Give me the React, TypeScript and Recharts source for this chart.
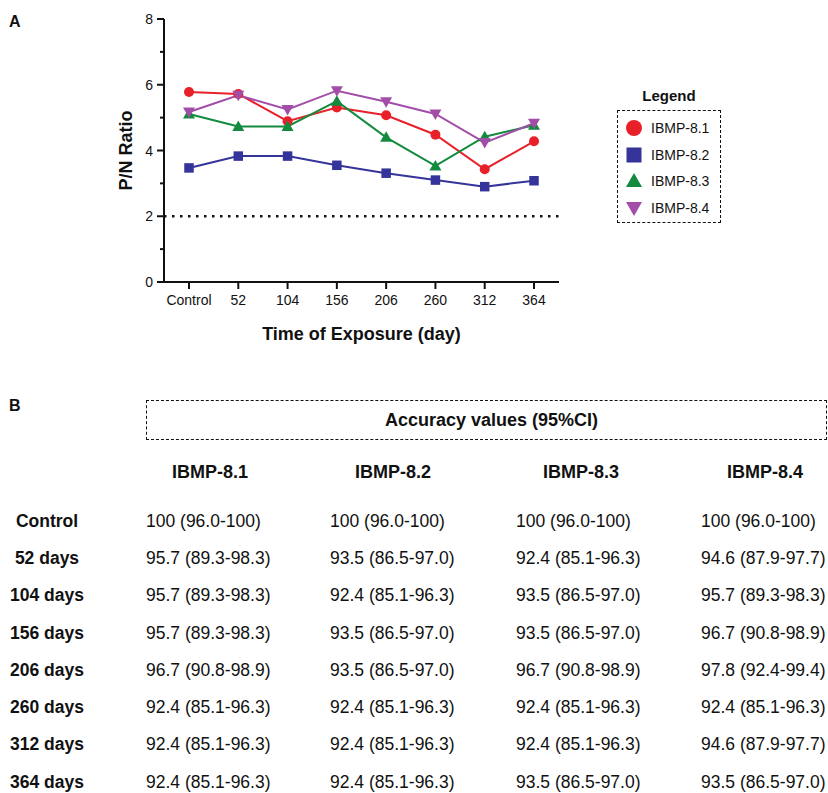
import { LineChart, Line, XAxis, YAxis, ReferenceLine, Legend } from 'recharts';

// ---- panel A data (P/N ratio) ----
const timePoints = ['Control', '52', '104', '156', '206', '260', '312', '364'];
const ibmp81 = [5.78, 5.72, 4.89, 5.31, 5.07, 4.48, 3.43, 4.28];
const ibmp82 = [3.47, 3.83, 3.83, 3.55, 3.31, 3.1, 2.9, 3.08];
const ibmp83 = [5.11, 4.73, 4.73, 5.5, 4.4, 3.53, 4.42, 4.77];
const ibmp84 = [5.17, 5.68, 5.25, 5.82, 5.48, 5.11, 4.24, 4.83];
const yTicks = [0, 1, 2, 3, 4, 5, 6, 7, 8];
const cutoff = 2;

// ---- panel B data (accuracy table) ----
const testNames = ['IBMP-8.1', 'IBMP-8.2', 'IBMP-8.3', 'IBMP-8.4'];
const rowLabels = ['Control', '52 days', '104 days', '156 days', '206 days', '260 days', '312 days', '364 days'];
const acc81 = ['100 (96.0-100)', '95.7 (89.3-98.3)', '95.7 (89.3-98.3)', '95.7 (89.3-98.3)', '96.7 (90.8-98.9)', '92.4 (85.1-96.3)', '92.4 (85.1-96.3)', '92.4 (85.1-96.3)'];
const acc82 = ['100 (96.0-100)', '93.5 (86.5-97.0)', '92.4 (85.1-96.3)', '93.5 (86.5-97.0)', '93.5 (86.5-97.0)', '92.4 (85.1-96.3)', '92.4 (85.1-96.3)', '92.4 (85.1-96.3)'];
const acc83 = ['100 (96.0-100)', '92.4 (85.1-96.3)', '93.5 (86.5-97.0)', '93.5 (86.5-97.0)', '96.7 (90.8-98.9)', '92.4 (85.1-96.3)', '92.4 (85.1-96.3)', '93.5 (86.5-97.0)'];
const acc84 = ['100 (96.0-100)', '94.6 (87.9-97.7)', '95.7 (89.3-98.3)', '96.7 (90.8-98.9)', '97.8 (92.4-99.4)', '92.4 (85.1-96.3)', '94.6 (87.9-97.7)', '93.5 (86.5-97.0)'];
const accColumns = [acc81, acc82, acc83, acc84];

const FONT = '"Liberation Sans", Arial, Helvetica, sans-serif';
const INK = '#111';

type Shape = 'circle' | 'square' | 'triangle' | 'triangleDown';

const SERIES: { name: string; values: number[]; color: string; shape: Shape }[] = [
  { name: 'IBMP-8.1', values: ibmp81, color: '#e8202a', shape: 'circle' },
  { name: 'IBMP-8.2', values: ibmp82, color: '#34349a', shape: 'square' },
  { name: 'IBMP-8.3', values: ibmp83, color: '#138a3d', shape: 'triangle' },
  { name: 'IBMP-8.4', values: ibmp84, color: '#a24ea9', shape: 'triangleDown' },
];

const chartData = timePoints.map((time, i) => {
  const row: Record<string, string | number> = { time };
  for (const s of SERIES) row[s.name] = s.values[i];
  return row;
});

function Marker({ shape, cx, cy, size, color }: { shape: Shape; cx: number; cy: number; size: number; color: string }) {
  const h = size / 2;
  if (shape === 'circle') return <circle cx={cx} cy={cy} r={h} fill={color} />;
  if (shape === 'square') return <rect x={cx - h} y={cy - h} width={size} height={size} fill={color} />;
  if (shape === 'triangle')
    return <polygon points={`${cx},${cy - h} ${cx + h},${cy + h * 0.75} ${cx - h},${cy + h * 0.75}`} fill={color} />;
  return <polygon points={`${cx},${cy + h} ${cx + h},${cy - h * 0.75} ${cx - h},${cy - h * 0.75}`} fill={color} />;
}

const Y_TICK_MARGIN = 11;

function YTick(props: any) {
  const { x, y, payload } = props;
  const v = payload.value as number;
  const major = v % 2 === 0;
  const axisX = x + Y_TICK_MARGIN;
  return (
    <g>
      <line x1={axisX - (major ? 7 : 4)} x2={axisX} y1={y} y2={y} stroke={INK} strokeWidth={2} />
      {major && (
        <text x={x} y={y} dy="0.36em" textAnchor="end" fontSize={14} fill={INK} fontFamily={FONT}>
          {v}
        </text>
      )}
    </g>
  );
}

function LegendBox(props: any) {
  const items = (props.payload || []) as any[];
  return (
    <div style={{ fontFamily: FONT, color: INK }}>
      <div style={{ textAlign: 'center', fontWeight: 700, fontSize: 15, lineHeight: '22px', marginBottom: 3 }}>Legend</div>
      <div style={{ border: `1.3px dashed ${INK}`, padding: '4px 0 2px 0', boxSizing: 'border-box', height: 113 }}>
        {items.map((it) => {
          const s = SERIES.find((d) => d.name === it.value)!;
          return (
            <div key={it.value} style={{ display: 'flex', alignItems: 'center', height: 26.5 }}>
              <svg width={18} height={18} style={{ marginLeft: 7, marginRight: 8 }}>
                <Marker shape={s.shape} cx={9} cy={9} size={s.shape === 'square' ? 15 : 16} color={s.color} />
              </svg>
              <span style={{ fontSize: 14 }}>{it.value}</span>
            </div>
          );
        })}
      </div>
    </div>
  );
}

const valueX = [146, 330, 516, 701];
const headerX = [210, 393, 581, 765];
const ROW_TOP = 520.7;
const ROW_STEP = 37.3;

function CenteredText({ x, y, size, bold, align, children }: any) {
  const lh = size * 1.15;
  const style: React.CSSProperties = {
    position: 'absolute',
    top: y - lh / 2,
    fontSize: size,
    lineHeight: `${lh}px`,
    fontWeight: bold ? 700 : 400,
    whiteSpace: 'nowrap',
    fontFamily: FONT,
    color: INK,
  };
  if (align === 'center') {
    style.left = x - 100;
    style.width = 200;
    style.textAlign = 'center';
  } else {
    style.left = x;
  }
  return <div style={style}>{children}</div>;
}

export default function App() {
  return (
    <div style={{ position: 'absolute', left: 0, top: 0, width: 828, height: 793, background: '#fff', overflow: 'hidden', fontFamily: FONT }}>
      <CenteredText x={9} y={22} size={16} bold>A</CenteredText>
      <div style={{ position: 'absolute', left: 0, top: 0 }}>
        <LineChart width={828} height={360} data={chartData} margin={{ top: 19, right: 269, left: 124, bottom: 18 }}>
          <XAxis
            dataKey="time"
            padding={{ left: 25, right: 25 }}
            axisLine={{ stroke: INK, strokeWidth: 2 }}
            tickLine={{ stroke: INK, strokeWidth: 2 }}
            tickSize={7}
            tickMargin={6}
            tick={{ fill: INK, fontSize: 14, fontFamily: FONT }}
            interval={0}
            height={60}
            label={{ value: 'Time of Exposure (day)', position: 'insideBottom', offset: 2, fill: INK, fontSize: 18, fontWeight: 700, fontFamily: FONT }}
          />
          <YAxis
            domain={[0, 8]}
            ticks={yTicks}
            interval={0}
            width={40}
            axisLine={{ stroke: INK, strokeWidth: 2 }}
            tickLine={false}
            tickSize={0}
            tickMargin={Y_TICK_MARGIN}
            tick={<YTick />}
            label={{ value: 'P/N Ratio', angle: -90, position: 'insideLeft', offset: 2, style: { textAnchor: 'middle' }, fill: INK, fontSize: 18, fontWeight: 700, fontFamily: FONT }}
          />
          <ReferenceLine y={cutoff} stroke={INK} strokeWidth={2.5} strokeDasharray="2.5 5.5" />
          {SERIES.map((s) => (
            <Line
              key={s.name}
              dataKey={s.name}
              name={s.name}
              type="linear"
              stroke={s.color}
              strokeWidth={2}
              isAnimationActive={false}
              dot={(p: any) => (
                <Marker key={`${s.name}-${p.index}`} shape={s.shape} cx={p.cx} cy={p.cy} size={s.shape === 'circle' ? 10 : s.shape === 'square' ? 9.5 : 12} color={s.color} />
              )}
              activeDot={false}
            />
          ))}
          <Legend
            layout="horizontal"
            verticalAlign="middle"
            align="center"
            content={<LegendBox />}
            wrapperStyle={{ left: 617, top: 85, width: 104 }}
          />
        </LineChart>
      </div>

      {/* panel B */}
      <CenteredText x={9} y={406} size={16} bold>B</CenteredText>
      <div style={{ position: 'absolute', left: 146, top: 400, width: 681, height: 40, border: `1.3px dashed ${INK}`, boxSizing: 'border-box' }} />
      <CenteredText x={485} y={420} size={18} bold align="center">Accuracy values (95%CI)</CenteredText>
      {testNames.map((t, i) => (
        <CenteredText key={t} x={headerX[i]} y={472} size={18} bold align="center">{t}</CenteredText>
      ))}
      {rowLabels.map((r, ri) => (
        <div key={r}>
          <CenteredText x={47} y={ROW_TOP + ri * ROW_STEP} size={17.5} bold align="center">{r}</CenteredText>
          {accColumns.map((col, ci) => (
            <CenteredText key={ci} x={valueX[ci]} y={ROW_TOP + ri * ROW_STEP} size={17.5}>{col[ri]}</CenteredText>
          ))}
        </div>
      ))}
    </div>
  );
}
